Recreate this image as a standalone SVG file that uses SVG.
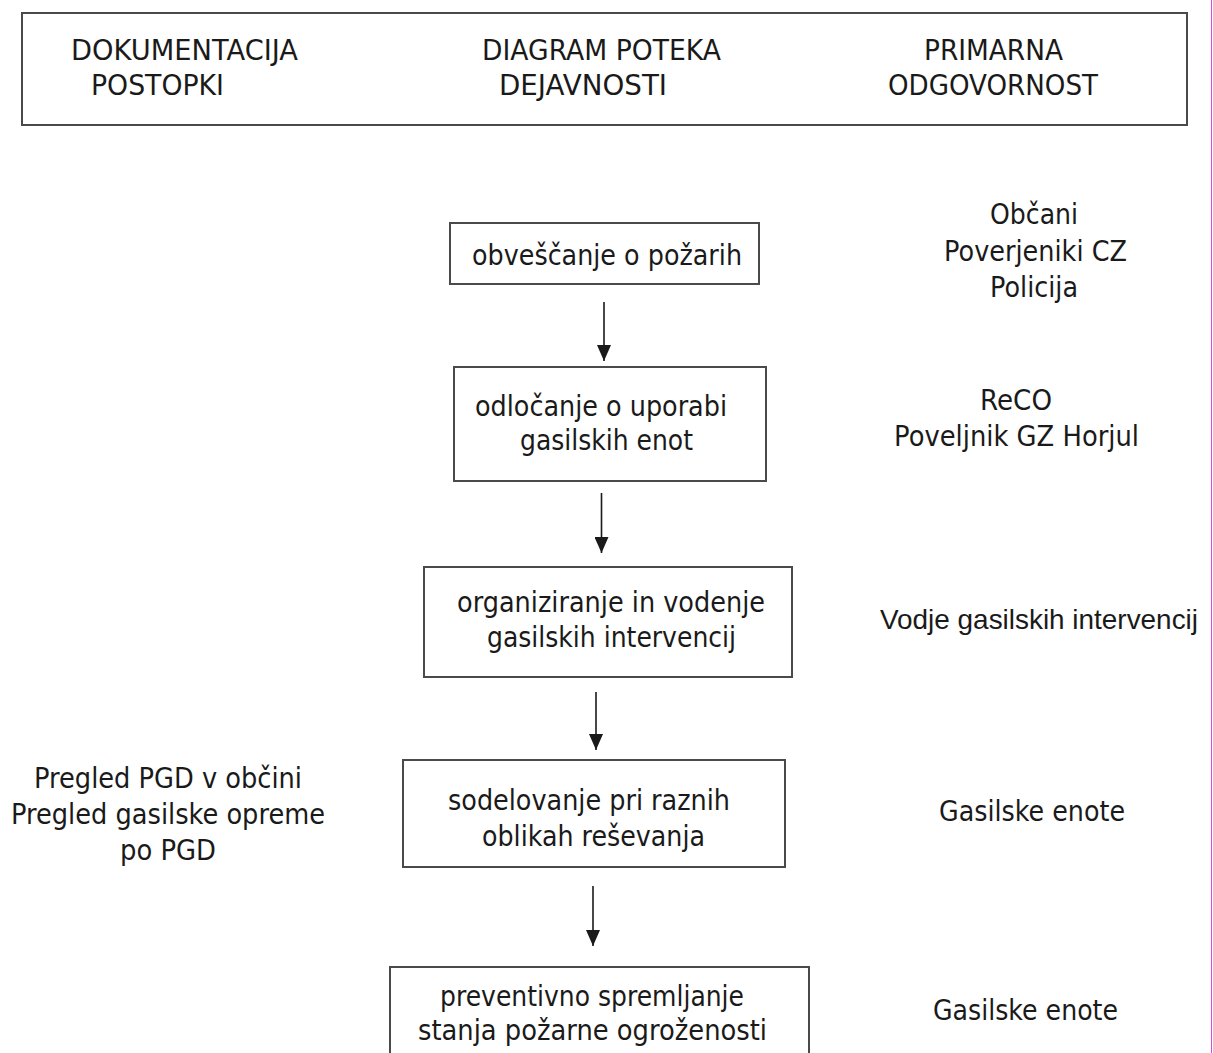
<svg xmlns="http://www.w3.org/2000/svg" width="1213" height="1053" viewBox="0 0 1213 1053">
<style>
text{font-family:"DejaVu Sans","Liberation Sans",sans-serif;font-size:28px;fill:#1a1a1a;}
text.narrow{font-family:"Liberation Sans","DejaVu Sans",sans-serif;}
.box{fill:#fff;stroke:#4a4a4a;stroke-width:2;}
.conn{stroke:#1a1a1a;stroke-width:1.6;fill:none;}
</style>
<defs>
<marker id="ah" markerUnits="userSpaceOnUse" markerWidth="16" markerHeight="14" viewBox="0 0 16 14" refX="16" refY="7" orient="auto">
<path d="M0,0 L16,7 L0,14 z" fill="#1a1a1a"/>
</marker>
</defs>
<rect width="1213" height="1053" fill="#fff"/>
<g id="header">
<rect class="box" x="22" y="13" width="1165" height="112"/>
<text x="71" y="60" textLength="227" lengthAdjust="spacingAndGlyphs">DOKUMENTACIJA</text>
<text x="91" y="95" textLength="133" lengthAdjust="spacingAndGlyphs">POSTOPKI</text>
<text x="482" y="60" textLength="239" lengthAdjust="spacingAndGlyphs">DIAGRAM POTEKA</text>
<text x="499" y="95" textLength="168" lengthAdjust="spacingAndGlyphs">DEJAVNOSTI</text>
<text x="924" y="60" textLength="139" lengthAdjust="spacingAndGlyphs">PRIMARNA</text>
<text x="888" y="95" textLength="210" lengthAdjust="spacingAndGlyphs">ODGOVORNOST</text>
</g>
<g id="n1">
<rect class="box" x="450" y="223" width="309" height="61"/>
<text x="472" y="265" textLength="270" lengthAdjust="spacingAndGlyphs">obveščanje o požarih</text>
</g>
<g id="n2">
<rect class="box" x="454" y="367" width="312" height="114"/>
<text x="475" y="416" textLength="252" lengthAdjust="spacingAndGlyphs">odločanje o uporabi</text>
<text x="520" y="450" textLength="173" lengthAdjust="spacingAndGlyphs">gasilskih enot</text>
</g>
<g id="n3">
<rect class="box" x="424" y="567" width="368" height="110"/>
<text x="457" y="612" textLength="308" lengthAdjust="spacingAndGlyphs">organiziranje in vodenje</text>
<text x="487" y="647" textLength="249" lengthAdjust="spacingAndGlyphs">gasilskih intervencij</text>
</g>
<g id="n4">
<rect class="box" x="403" y="760" width="382" height="107"/>
<text x="448" y="810" textLength="282" lengthAdjust="spacingAndGlyphs">sodelovanje pri raznih</text>
<text x="482" y="846" textLength="223" lengthAdjust="spacingAndGlyphs">oblikah reševanja</text>
</g>
<g id="n5">
<rect class="box" x="390" y="967" width="419" height="100"/>
<text x="440" y="1006" textLength="304" lengthAdjust="spacingAndGlyphs">preventivno spremljanje</text>
<text x="418" y="1040" textLength="349" lengthAdjust="spacingAndGlyphs">stanja požarne ogroženosti</text>
</g>
<g id="connectors">
<line class="conn" x1="604" y1="302" x2="604" y2="361" marker-end="url(#ah)"/>
<line class="conn" x1="601.5" y1="493" x2="601.5" y2="553" marker-end="url(#ah)"/>
<line class="conn" x1="596" y1="692" x2="596" y2="750" marker-end="url(#ah)"/>
<line class="conn" x1="593" y1="886" x2="593" y2="946" marker-end="url(#ah)"/>
</g>
<g id="resp1">
<text x="990" y="224" textLength="88" lengthAdjust="spacingAndGlyphs">Občani</text>
<text x="944" y="261" textLength="183" lengthAdjust="spacingAndGlyphs">Poverjeniki CZ</text>
<text x="990" y="297" textLength="88" lengthAdjust="spacingAndGlyphs">Policija</text>
</g>
<g id="resp2">
<text x="980" y="410" textLength="72" lengthAdjust="spacingAndGlyphs">ReCO</text>
<text x="894" y="446" textLength="245" lengthAdjust="spacingAndGlyphs">Poveljnik GZ Horjul</text>
</g>
<g id="resp3">
<text class="narrow" x="880" y="629" textLength="318" lengthAdjust="spacingAndGlyphs">Vodje gasilskih intervencij</text>
</g>
<g id="resp4">
<text x="939" y="821" textLength="186" lengthAdjust="spacingAndGlyphs">Gasilske enote</text>
</g>
<g id="resp5">
<text x="933" y="1020" textLength="185" lengthAdjust="spacingAndGlyphs">Gasilske enote</text>
</g>
<g id="doc4">
<text x="34" y="788" textLength="268" lengthAdjust="spacingAndGlyphs">Pregled PGD v občini</text>
<text x="11" y="824" textLength="314" lengthAdjust="spacingAndGlyphs">Pregled gasilske opreme</text>
<text x="120" y="860" textLength="96" lengthAdjust="spacingAndGlyphs">po PGD</text>
</g>
<line x1="1211.5" y1="0" x2="1211.5" y2="1053" stroke="#d94ddb" stroke-width="1"/>
</svg>
